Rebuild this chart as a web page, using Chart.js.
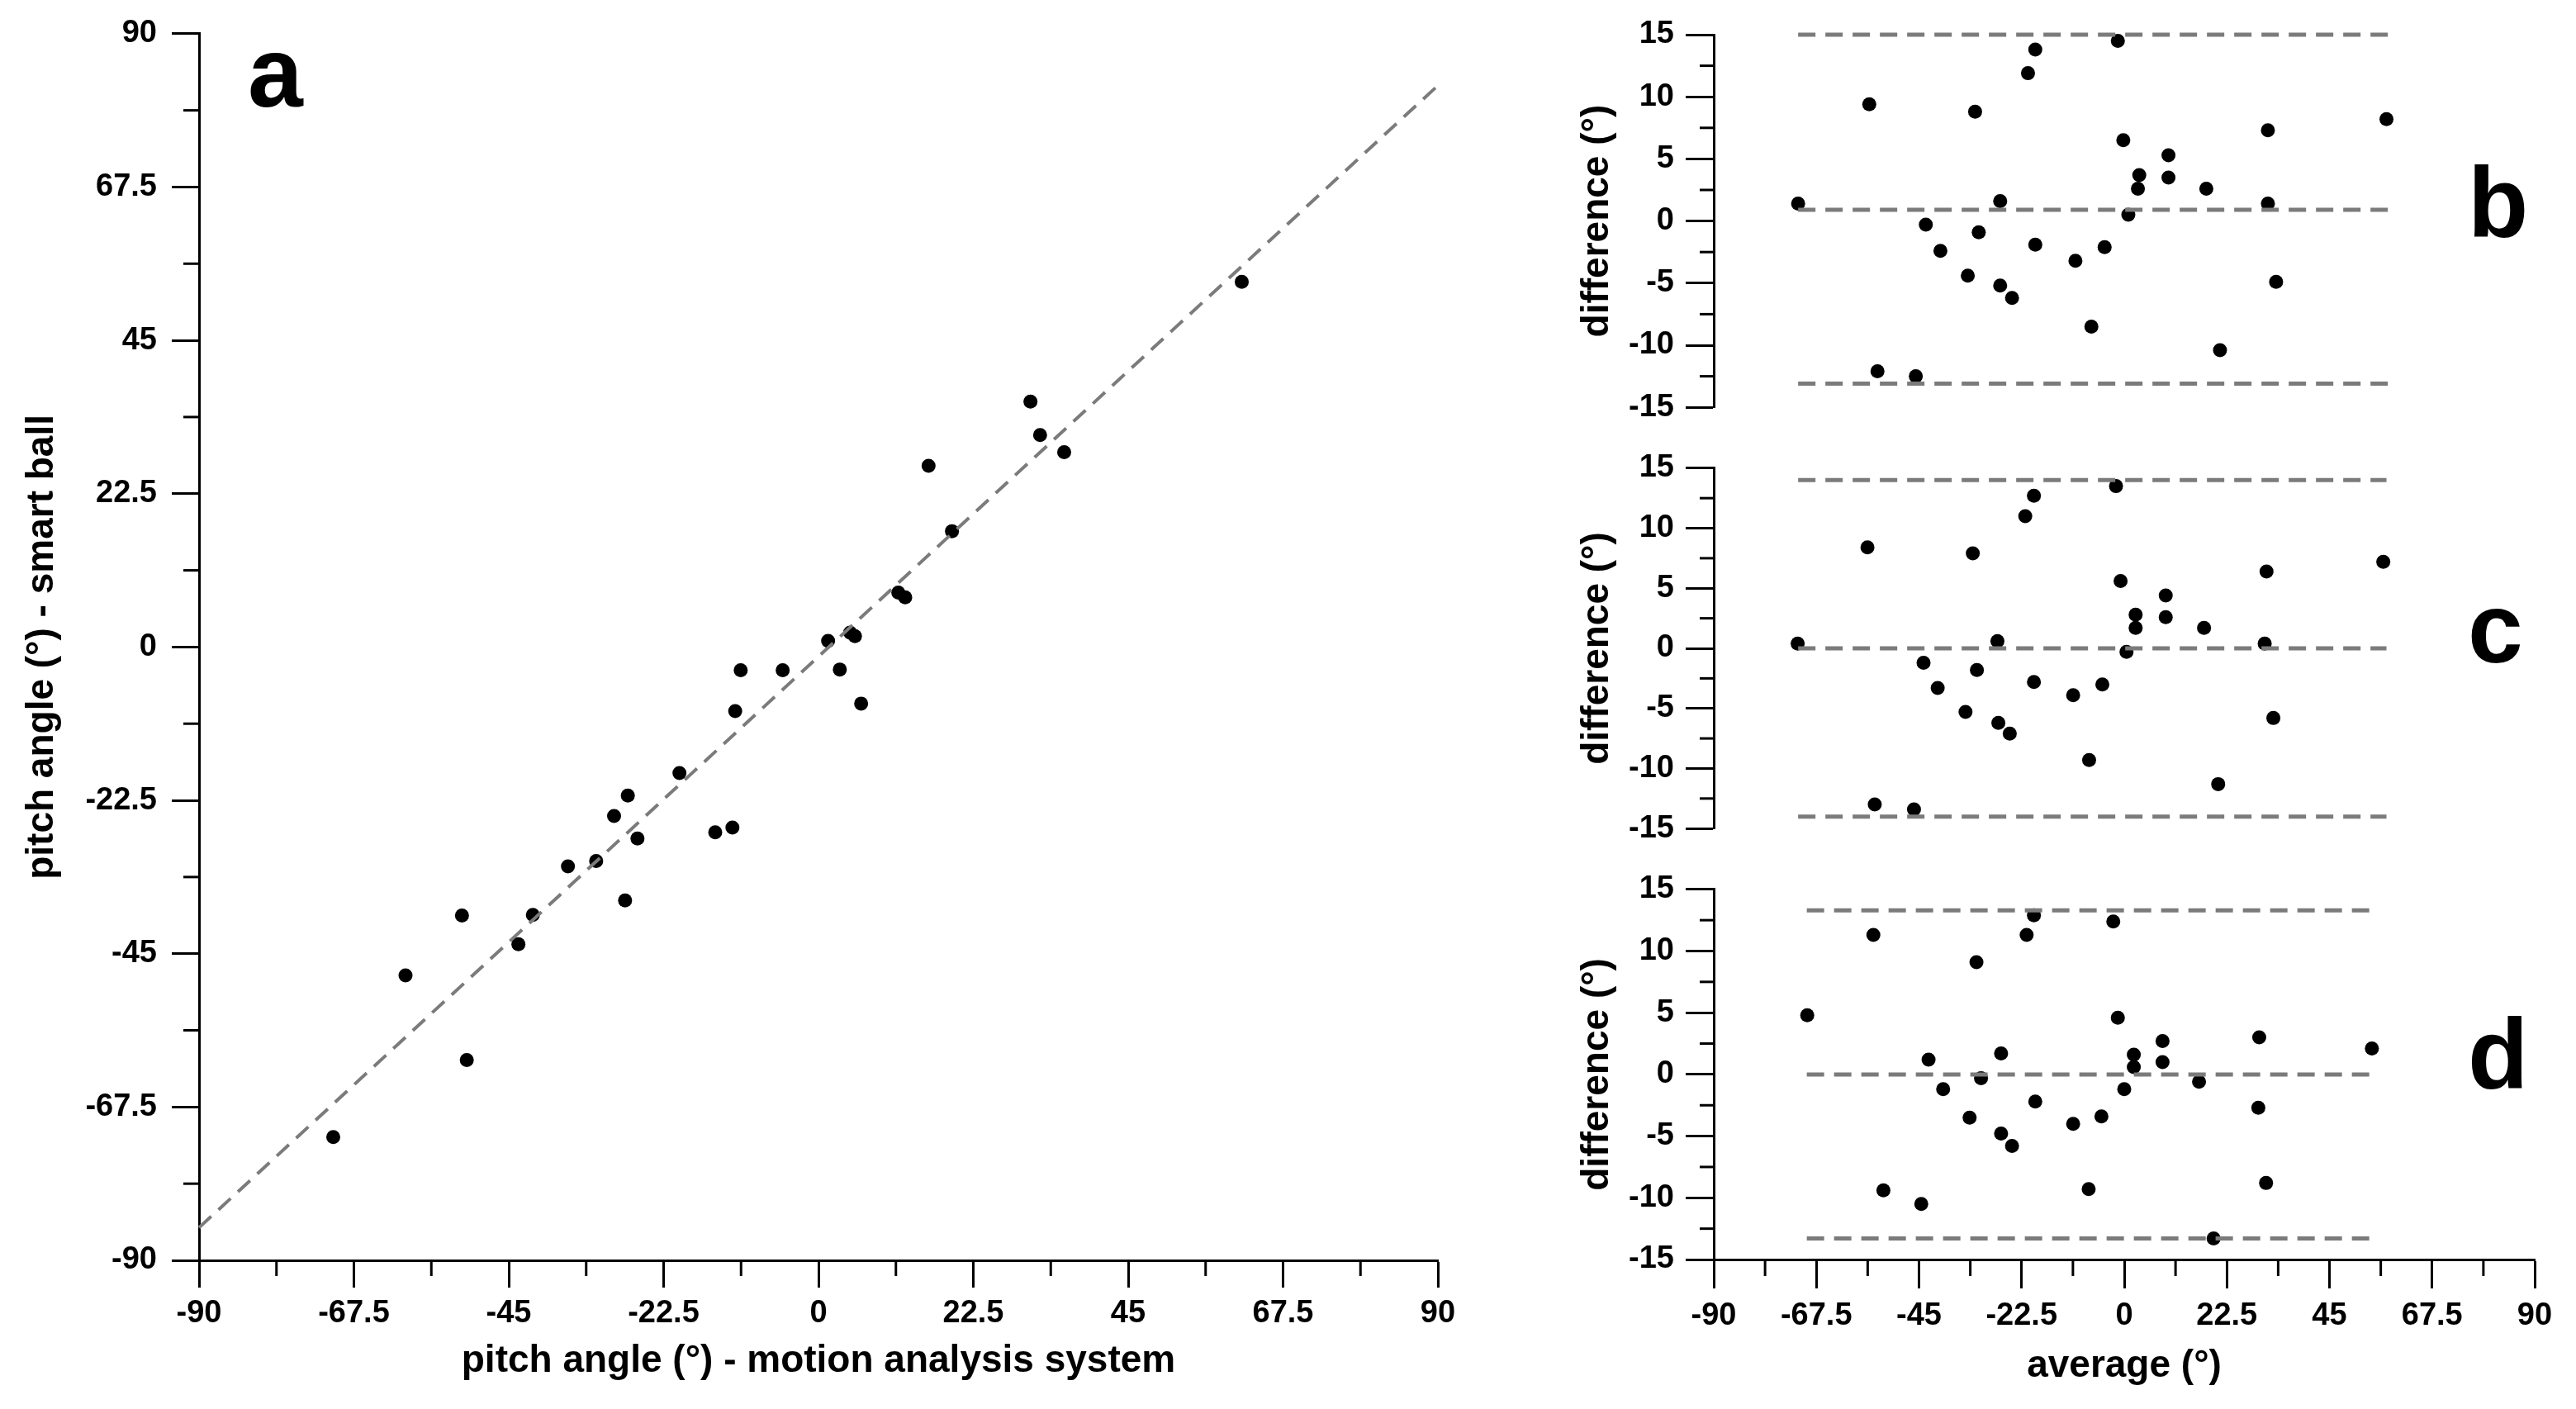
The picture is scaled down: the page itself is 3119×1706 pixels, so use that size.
<!DOCTYPE html>
<html><head><meta charset="utf-8">
<script src="https://cdn.jsdelivr.net/npm/chart.js@4.4.1/dist/chart.umd.min.js"></script>
<style>
html,body{margin:0;padding:0;background:#fff;}
#wrap{position:relative;width:3119px;height:1706px;overflow:hidden;background:#fff;}
canvas{position:absolute;}
.lbl{position:absolute;font-family:"Liberation Sans",Arial,sans-serif;font-weight:bold;font-size:120px;line-height:1;color:#000;}
</style></head><body>
<div id="wrap">
<canvas id="ca" width="1800" height="1706" style="left:0;top:0"></canvas>
<canvas id="cb" width="1239" height="530" style="left:1880px;top:0"></canvas>
<canvas id="cc" width="1239" height="510" style="left:1880px;top:530px"></canvas>
<canvas id="cd" width="1239" height="666" style="left:1880px;top:1040px"></canvas>
<div class="lbl" style="left:300px;top:27px">a</div>
<div class="lbl" style="left:2988px;top:185px">b</div>
<div class="lbl" style="left:2988px;top:700px">c</div>
<div class="lbl" style="left:2988px;top:1216px">d</div>
</div>
<script>
// ---------- DATA ----------
// Panel a: pitch angle, motion analysis system (x) vs smart ball (y)
const motionAngle = [-70.5,-60.0,-51.8,-51.1,-43.6,-41.5,-36.4,-32.3,-29.7,-27.7,-28.1,-26.3,-20.2,-15.0,-12.5,-12.1,-11.3,-5.2,61.5,30.8,32.2,35.7,16.0,19.4,11.6,12.6,1.4,4.6,5.3,3.1,6.2];
const smartBallAngle = [-71.9,-48.2,-39.4,-60.6,-43.6,-39.3,-32.2,-31.4,-24.8,-21.8,-37.2,-28.1,-18.5,-27.2,-26.5,-9.4,-3.4,-3.4,53.6,36.0,31.1,28.6,26.6,17.0,8.0,7.3,0.9,2.1,1.6,-3.3,-8.3];
const fitLineX = [-90, 90];
const fitLineY = [-85.2, 82.4];

// Panel b
const avgB  = [-71.5,-55.9,-54.1,-45.7,-43.5,-40.3,-34.3,-32.7,-31.9,-27.2,-27.2,-24.6,-21.1,-19.5,-19.5,-10.7,-7.2,-4.3,-1.4,-0.2,0.9,3.0,3.3,9.7,9.7,18.0,21.0,31.5,31.5,33.3,57.5];
const diffB = [1.4,9.4,-12.1,-12.5,-0.3,-2.4,-4.4,8.8,-0.9,1.6,-5.2,-6.2,11.9,13.8,-1.9,-3.2,-8.5,-2.1,14.5,6.5,0.5,2.6,3.7,5.3,3.5,2.6,-10.4,7.3,1.4,-4.9,8.2];
const limitsXB = [-71.5, 58.2];
const limitsB  = [15.0, 0.9, -13.1];

// Panel c
const avgC  = [-71.6,-56.3,-54.7,-46.1,-44.0,-40.9,-34.8,-33.2,-32.3,-27.8,-27.6,-25.1,-21.7,-19.8,-19.8,-11.2,-7.7,-4.8,-1.8,-0.8,0.5,2.5,2.5,9.1,9.1,17.5,20.6,31.2,30.8,32.7,56.8];
const diffC = [0.4,8.4,-13.0,-13.4,-1.2,-3.3,-5.3,7.9,-1.8,0.6,-6.2,-7.1,11.0,12.7,-2.8,-3.9,-9.3,-3.0,13.5,5.6,-0.3,1.7,2.8,4.4,2.6,1.7,-11.3,6.4,0.4,-5.8,7.2];
const limitsXC = [-71.5, 57.5];
const limitsC  = [14.0, 0.0, -14.0];

// Panel d
const avgD  = [-69.5,-55.0,-52.8,-44.5,-42.9,-39.7,-33.9,-32.4,-31.4,-27.0,-27.0,-24.6,-21.4,-19.8,-19.5,-11.2,-7.8,-5.0,-2.4,-1.4,0.0,2.1,2.1,8.4,8.4,16.4,19.6,29.6,29.4,31.1,54.3];
const diffD = [4.8,11.3,-9.4,-10.5,1.2,-1.2,-3.5,9.1,-0.3,1.7,-4.8,-5.8,11.3,12.9,-2.2,-4.0,-9.3,-3.4,12.4,4.6,-1.2,1.6,0.6,2.7,1.0,-0.6,-13.3,3.0,-2.7,-8.8,2.1];
const limitsXD = [-69.6, 54.3];
const limitsD  = [13.3, 0.0, -13.3];

// tick positions
const angleMinorTicks = [-78.75,-56.25,-33.75,-11.25,11.25,33.75,56.25,78.75];
const diffMinorTicks = [12.5,7.5,2.5,-2.5,-7.5,-12.5];

// ---------- STYLE ----------
const FAM = '"Liberation Sans", Arial, sans-serif';
const tickFont = {family: FAM, size: 38, weight: 'bold'};
const titleFont = {family: FAM, size: 46, weight: 'bold'};
const DASH_GRAY = '#7b7b7b';

const minorTicksPlugin = {
  id: 'minorTicks',
  afterDraw(chart, args, opts) {
    const ctx = chart.ctx;
    (opts.axes || []).forEach(a => {
      const sc = chart.scales[a.id];
      ctx.save();
      ctx.strokeStyle = '#000'; ctx.lineWidth = 3; ctx.lineCap = 'butt';
      a.values.forEach(v => {
        const p = sc.getPixelForValue(v);
        ctx.beginPath();
        if (sc.isHorizontal()) { ctx.moveTo(p, sc.top); ctx.lineTo(p, sc.top + a.length); }
        else { ctx.moveTo(sc.right, p); ctx.lineTo(sc.right - a.length, p); }
        ctx.stroke();
      });
      ctx.restore();
    });
  }
};
Chart.register(minorTicksPlugin);

function axisBase(min, max, step, tickLen, pad, showLabels) {
  return {
    type: 'linear', min: min, max: max,
    border: {display: true, color: '#000', width: 3},
    grid: {display: true, drawOnChartArea: false, drawTicks: true, tickLength: tickLen, tickWidth: 3, tickColor: '#000', color: '#000'},
    ticks: {stepSize: step, padding: pad, color: '#000', font: tickFont, autoSkip: false, maxRotation: 0, display: showLabels,
            callback: v => String(v)}
  };
}

// ---------- PANEL A ----------
const xA = axisBase(-90, 90, 22.5, 33, 9, true);
xA.title = {display: true, text: 'pitch angle (°) - motion analysis system', color: '#000', font: titleFont, padding: {top: 0, bottom: 30}};
xA.afterFit = s => { s.height = 180; };
const yA = axisBase(-90, 90, 22.5, 33, 18, true);
yA.title = {display: true, text: 'pitch angle (°) - smart ball', color: '#000', font: titleFont, padding: {top: 24, bottom: 0}};
yA.afterFit = s => { s.width = 241; };

new Chart(document.getElementById('ca'), {
  type: 'scatter',
  data: {
    datasets: [
      {data: fitLineX.map((x, i) => ({x: x, y: fitLineY[i]})), showLine: true, borderColor: DASH_GRAY, borderWidth: 4, borderDash: [20, 12], pointRadius: 0, order: 0, clip: false},
      {data: motionAngle.map((x, i) => ({x: x, y: smartBallAngle[i]})), pointRadius: 8.5, backgroundColor: '#000', borderWidth: 0, order: 1, clip: false}
    ]
  },
  options: {
    responsive: false, animation: false, events: [],
    layout: {padding: {left: 0, right: 59, top: 36, bottom: 0}},
    plugins: {legend: {display: false}, tooltip: {enabled: false},
      minorTicks: {axes: [{id: 'x', values: angleMinorTicks, length: 19}, {id: 'y', values: angleMinorTicks, length: 19}]}},
    scales: {x: xA, y: yA}
  }
});

// ---------- PANELS B, C, D ----------
function baChart(id, avg, diff, limX, lims, showX, pads) {
  const xS = axisBase(-90, 90, 22.5, 35, 11, true);
  xS.display = showX;
  if (showX) {
    xS.title = {display: true, text: 'average (°)', color: '#000', font: titleFont, padding: {top: 0, bottom: 24}};
    xS.afterFit = s => { s.height = 181; };
  }
  const yS = axisBase(-15, 15, 5, 34, 14, true);
  yS.title = {display: true, text: 'difference (°)', color: '#000', font: titleFont, padding: {top: 27, bottom: 0}};
  yS.afterFit = s => { s.width = 195; };
  const lineSets = lims.map(v => ({data: limX.map(x => ({x: x, y: v})), showLine: true, borderColor: DASH_GRAY, borderWidth: 5, borderDash: [21, 12], pointRadius: 0, order: 0, clip: false}));
  const minor = [{id: 'y', values: diffMinorTicks, length: 17}];
  if (showX) minor.push({id: 'x', values: angleMinorTicks, length: 20});
  new Chart(document.getElementById(id), {
    type: 'scatter',
    data: {datasets: lineSets.concat([{data: avg.map((x, i) => ({x: x, y: diff[i]})), pointRadius: 8.5, backgroundColor: '#000', borderWidth: 0, order: 1, clip: false}])},
    options: {
      responsive: false, animation: false, events: [],
      layout: {padding: pads},
      plugins: {legend: {display: false}, tooltip: {enabled: false}, minorTicks: {axes: minor}},
      scales: {x: xS, y: yS}
    }
  });
}
baChart('cb', avgB, diffB, limitsXB, limitsB, false, {left: 0, right: 50, top: 42, bottom: 24});
baChart('cc', avgC, diffC, limitsXC, limitsC, false, {left: 0, right: 50, top: 21, bottom: 24});
baChart('cd', avgD, diffD, limitsXD, limitsD, true, {left: 0, right: 50, top: 21, bottom: 0});
</script>
</body></html>
